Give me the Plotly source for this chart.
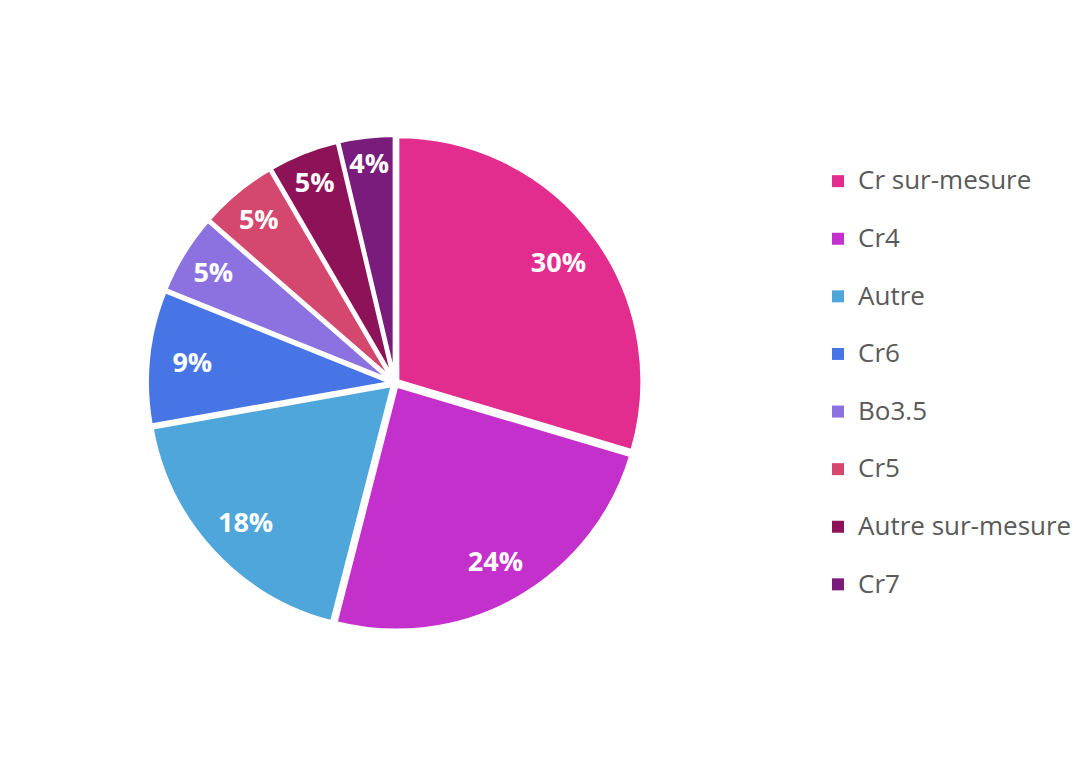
import plotly.graph_objects as go

labels = ["Cr sur-mesure", "Cr4", "Autre", "Cr6", "Bo3.5", "Cr5", "Autre sur-mesure", "Cr7"]
values = [29.6, 24.4, 18.2, 8.9, 5.3, 5.2, 4.7, 3.7]
colors = ["#E22D8F", "#C430CC", "#4EA6DB", "#4875E5", "#8B72E0", "#D4486F", "#8E1258", "#7A1C7B"]

legend_labels = ['<span style="font-size:26px">' + l + '</span><br> ' for l in labels]

cx, cy, R = 395, 383, 245
W, H = 1090, 768
pull = 0.012
Rd = R * (1 + pull)
domain = dict(x=[(cx - Rd) / W, (cx + Rd) / W], y=[(H - cy - Rd) / H, (H - cy + Rd) / H])
clear = ["rgba(0,0,0,0)"] * len(values)

fig = go.Figure()
# filled slices (legend source)
fig.add_trace(go.Pie(
    labels=legend_labels,
    values=values,
    sort=False,
    direction="clockwise",
    rotation=0,
    pull=pull,
    marker=dict(colors=colors, line=dict(color="white", width=0)),
    textinfo="none",
    domain=domain,
    hoverinfo="label+percent",
))
# white slice borders
fig.add_trace(go.Pie(
    labels=legend_labels,
    values=values,
    sort=False,
    direction="clockwise",
    rotation=0,
    pull=pull,
    showlegend=False,
    marker=dict(colors=clear, line=dict(color="white", width=4)),
    textinfo="none",
    domain=domain,
    hoverinfo="skip",
))
# percentage labels placed in the outer ring
fig.add_trace(go.Pie(
    labels=legend_labels,
    values=values,
    sort=False,
    direction="clockwise",
    rotation=0,
    pull=pull,
    hole=0.64,
    showlegend=False,
    marker=dict(colors=clear, line=dict(color="rgba(0,0,0,0)", width=0)),
    texttemplate="%{percent:.0%}",
    textposition="inside",
    insidetextorientation="horizontal",
    textfont=dict(family="Open Sans", size=27, color="white", weight="bold"),
    domain=domain,
    hoverinfo="skip",
))

fig.update_layout(
    width=W, height=H,
    margin=dict(l=0, r=0, t=0, b=0),
    paper_bgcolor="white",
    showlegend=True,
    uniformtext=dict(minsize=27, mode="show"),
    legend=dict(
        x=818 / W, xanchor="left",
        y=1 - 161 / H, yanchor="top",
        valign="top",
        font=dict(family="Open Sans", size=21, color="#595959"),
        bgcolor="rgba(0,0,0,0)",
    ),
)

fig.write_html("out.html")
